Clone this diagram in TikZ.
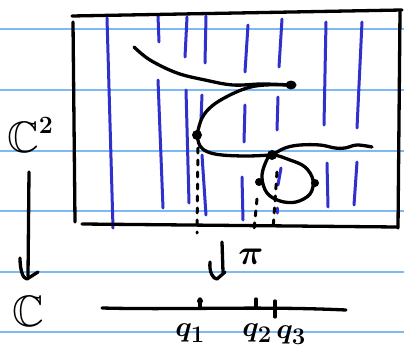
\documentclass[tikz,border=0pt]{standalone}
\usepackage{graphicx}
\usepackage{amssymb}
\usepackage{bm}
\definecolor{ruleblue}{RGB}{125,185,245}
\definecolor{hatchblue}{RGB}{48,48,205}
\begin{document}
\begin{tikzpicture}[x=1pt,y=-1pt,line cap=round,line join=round,
  rule/.style={draw=ruleblue,line width=1.4pt},
  hatch/.style={draw=hatchblue,line width=3pt},
  ink/.style={draw=black,line width=3.3pt},
  dashink/.style={ink,line width=3pt,dash pattern=on 5pt off 7pt},
  lbl/.style={inner sep=0pt,text=black}]
\useasboundingbox (0,0) rectangle (404,353);
% ruled paper
\foreach \yy in {29,90,151,211,272,332} \draw[rule] (0,\yy) -- (404,\yy);
% blue vertical hatching
\draw[hatch] (107,18) -- (113,228);
\draw[hatch] (158,16) -- (159,42);
\draw[hatch] (158,80) -- (163,208);
\draw[hatch] (187,17) -- (185,57);
\draw[hatch] (186,90) -- (189,203);
\draw[hatch] (206,16) -- (205,63);
\draw[hatch] (202,95) -- (201,120);
\draw[hatch] (202,155) -- (206,215);
\draw[hatch] (248,25) -- (245,72);
\draw[hatch] (245,105) -- (244,142);
\draw[hatch] (242,177) -- (243,220);
\draw[hatch] (282,19) -- (279,67);
\draw[hatch] (278,97) -- (277,130);
\draw[hatch] (281,168) -- (278,185);
\draw[hatch] (277,208) -- (277,213);
\draw[hatch] (326,22) -- (324,125);
\draw[hatch] (327,163) -- (328,207);
\draw[hatch] (362,22) -- (357,128);
\draw[hatch] (357,162) -- (354,205);
% frame
\draw[ink] (72,16) -- (402,10);
\draw[ink] (400,12) -- (398,228);
\draw[ink] (73,22) -- (75,222);
\draw[ink] (82,224) -- (397,227);
% curve
\coordinate (fold) at (291,85);
\coordinate (p1) at (197,135);
\coordinate (p2) at (272,155);
\draw[ink] plot[smooth,tension=0.6] coordinates {(134,47) (150,60) (177,73) (205,80) (233,85) (262,84) (fold)};
\draw[ink] plot[smooth,tension=0.6] coordinates {(fold) (265,85) (247,88) (228,96) (212,106) (202,118) (p1)};
\draw[ink] plot[smooth,tension=0.6] coordinates {(p1) (200,146) (208,152) (222,155) (247,156) (p2)};
\draw[ink] plot[smooth,tension=0.6] coordinates {(p2) (285,148) (300,145) (320,145) (335,148) (345,148) (357,145) (372,147)};
\draw[ink] plot[smooth cycle,tension=0.6] coordinates {(p2) (290,160) (305,167) (313,180) (310,194) (296,202) (280,201) (267,193) (262,178) (265,164)};
% special points
\fill (fold) ellipse (5.5 and 4.5);
\fill (p1) circle (5);
\fill (p2) circle (5);
\coordinate (lp) at (259,182);
\coordinate (rp) at (315,183);
\fill (lp) circle (4);
\fill (rp) circle (4);
% dashed projections
\draw[dashink] (198,148) -- (197,233);
\draw[dashink] (257,199) -- (254,230);
\draw[dashink] (277,172) -- (273,230);
% left arrow
\coordinate (la) at (29,172);
\coordinate (lb) at (28,276);
\draw[ink] (la) -- (lb);
\draw[ink] (20,258) .. controls (20,270) and (23,279) .. (27,279) -- (38,272);
% pi arrow
\coordinate (pa) at (222,242);
\coordinate (pb) at (223,272);
\draw[ink] (pa) -- (pb);
\draw[ink] (210,262) .. controls (209,272) and (213,279) .. (217,279) -- (225,272);
% labels
\node[lbl,font=\fontsize{44}{46}\selectfont,anchor=base west] (C2) at (7,152) {$\mathbb{C}$\raisebox{0.42em}{\Huge\textbf{2}}};
\node[lbl,font=\fontsize{44}{46}\selectfont] (C1) at (28,311) {$\mathbb{C}$};
\node[lbl,font=\Huge] (pi) at (251,257) {\scalebox{1.4}{$\bm{\pi}$}};
% base line
\coordinate (b0) at (102,308);
\coordinate (b1) at (346,310);
\draw[ink] (b0) .. controls (180,310) and (260,306) .. (b1);
\coordinate (q1) at (200,308);
\coordinate (q2) at (256,307);
\coordinate (q3) at (275,308);
\draw[ink] (q1) -- ++(0,-9);
\fill (200,301) circle (3);
\draw[ink] (q2) -- ++(0,-8);
\draw[ink] (275,301) -- (275,317);
\node[lbl,font=\Huge] (lq1) at (190,333) {\scalebox{1.15}{$\bm{q_1}$}};
\node[lbl,font=\Huge] (lq2) at (257,333) {\scalebox{1.15}{$\bm{q_2}$}};
\node[lbl,font=\Huge] (lq3) at (291,335) {\scalebox{1.15}{$\bm{q_3}$}};
\end{tikzpicture}
\end{document}
